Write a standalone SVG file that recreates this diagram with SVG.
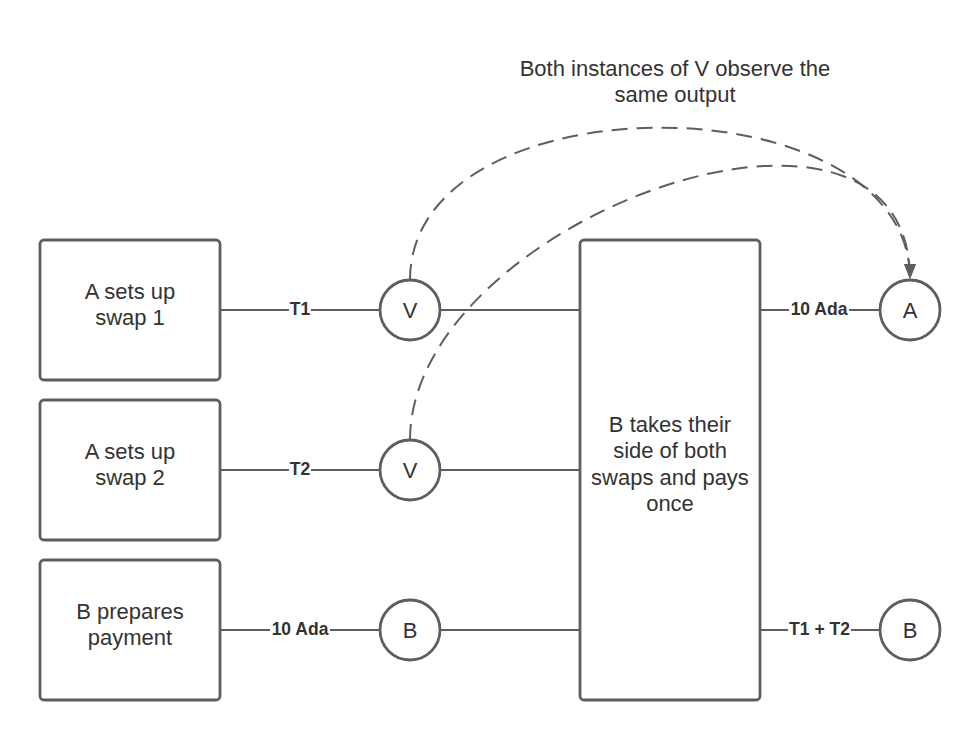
<svg xmlns="http://www.w3.org/2000/svg" width="980" height="740" viewBox="0 0 980 740">
<defs>
<marker id="arr" markerWidth="16" markerHeight="14" refX="15" refY="6" orient="auto" markerUnits="userSpaceOnUse">
<path d="M0,0 L15,6 L0,12 Z" fill="#5e5e5e"/>
</marker>
<style>
.box{fill:#fff;stroke:#5e5e5e;stroke-width:2.8}
.circ{fill:#fff;stroke:#5e5e5e;stroke-width:2.8}
.ln{stroke:#5e5e5e;stroke-width:2;fill:none}
.dash{stroke:#5e5e5e;stroke-width:2;fill:none;stroke-dasharray:16 9}
.t{font-family:"Liberation Sans",Arial,sans-serif;font-size:22px;fill:#333;text-anchor:middle}
.lbl{font-family:"Liberation Sans",Arial,sans-serif;font-size:17.5px;font-weight:bold;fill:#333;text-anchor:middle}
.bg{fill:#fff}
</style>
</defs>
<rect width="980" height="740" fill="#fff"/>
<g id="connectors">
<line class="ln" x1="220" y1="310" x2="380" y2="310"/>
<line class="ln" x1="220" y1="470" x2="380" y2="470"/>
<line class="ln" x1="220" y1="630" x2="380" y2="630"/>
<line class="ln" x1="440" y1="310" x2="580" y2="310"/>
<line class="ln" x1="440" y1="470" x2="580" y2="470"/>
<line class="ln" x1="440" y1="630" x2="580" y2="630"/>
<line class="ln" x1="760" y1="310" x2="880" y2="310"/>
<line class="ln" x1="760" y1="630" x2="880" y2="630"/>
<path class="dash" d="M410,280 C410,77 910,77 910,279" marker-end="url(#arr)"/>
<path class="dash" d="M410,440 C410,220 910,40 910,279" marker-end="url(#arr)"/>
<rect class="bg" x="289" y="300" width="22" height="20"/>
<text class="lbl" x="300" y="315">T1</text>
<rect class="bg" x="289" y="460" width="22" height="20"/>
<text class="lbl" x="300" y="475">T2</text>
<rect class="bg" x="270" y="620" width="60" height="20"/>
<text class="lbl" x="300" y="635">10 Ada</text>
<rect class="bg" x="789" y="300" width="60" height="20"/>
<text class="lbl" x="819" y="315">10 Ada</text>
<rect class="bg" x="788" y="620" width="63" height="20"/>
<text class="lbl" x="819.5" y="635">T1 + T2</text>
</g>
<g id="note">
<text class="t" x="675" y="76">Both instances of V observe the</text>
<text class="t" x="675" y="102">same output</text>
</g>
<g id="swap1">
<rect class="box" x="40" y="240" width="180" height="140" rx="4"/>
<text class="t" x="130" y="299">A sets up</text>
<text class="t" x="130" y="325">swap 1</text>
</g>
<g id="swap2">
<rect class="box" x="40" y="400" width="180" height="140" rx="4"/>
<text class="t" x="130" y="459">A sets up</text>
<text class="t" x="130" y="485">swap 2</text>
</g>
<g id="prep">
<rect class="box" x="40" y="560" width="180" height="140" rx="4"/>
<text class="t" x="130" y="619">B prepares</text>
<text class="t" x="130" y="645">payment</text>
</g>
<g id="v1">
<circle class="circ" cx="410" cy="310" r="30"/>
<text class="t" x="410" y="318">V</text>
</g>
<g id="v2">
<circle class="circ" cx="410" cy="470" r="30"/>
<text class="t" x="410" y="478">V</text>
</g>
<g id="b1">
<circle class="circ" cx="410" cy="630" r="30"/>
<text class="t" x="410" y="638">B</text>
</g>
<g id="take">
<rect class="box" x="580" y="240" width="180" height="460" rx="4"/>
<text class="t" x="670" y="432">B takes their</text>
<text class="t" x="670" y="458">side of both</text>
<text class="t" x="670" y="485">swaps and pays</text>
<text class="t" x="670" y="511">once</text>
</g>
<g id="a2">
<circle class="circ" cx="910" cy="310" r="30"/>
<text class="t" x="910" y="318">A</text>
</g>
<g id="b2">
<circle class="circ" cx="910" cy="630" r="30"/>
<text class="t" x="910" y="638">B</text>
</g>
</svg>
